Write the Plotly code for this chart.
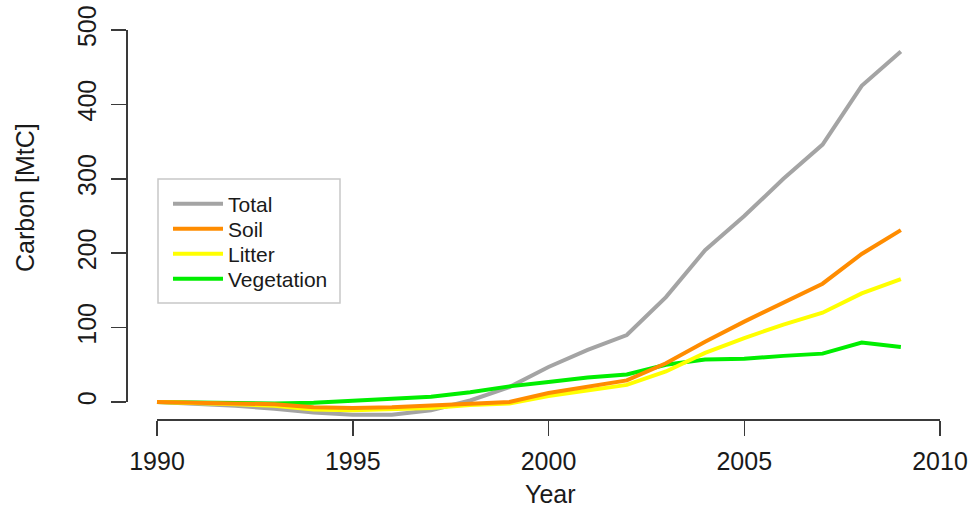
import plotly.graph_objects as go

# ---------------- data ----------------
years = list(range(1990, 2010))
total = [0, -2, -5, -9, -14, -17, -17, -11, 2, 20, 47, 70, 90, 141, 204, 250, 300, 346, 425, 471]
soil = [0, -1, -2, -3, -7, -8, -7, -5, -2, 0, 12, 21, 29, 52, 81, 108, 133, 159, 199, 231]
litter = [0, -1, -3, -5, -10, -11, -10, -8, -4, -2, 8, 16, 23, 41, 66, 86, 104, 120, 146, 165]
vegetation = [0, -1, -1, -2, -1, 2, 4, 7, 13, 21, 27, 33, 37, 50, 57, 58, 62, 65, 80, 74]

x_ticks = [1990, 1995, 2000, 2005, 2010]
y_ticks = [0, 100, 200, 300, 400, 500]

series_names = ["Total", "Soil", "Litter", "Vegetation"]
series_values = [total, soil, litter, vegetation]
series_colors = ["#A4A4A4", "#FF8C00", "#FFFF00", "#00EE00"]
draw_order = [0, 3, 2, 1]

# ---------------- geometry (pixels) ----------------
W, H = 971, 507
X0_PX, X1_PX = 157, 940      # pixel of 1990 and 2010
Y0_PX, Y1_PX = 402, 30       # pixel of 0 and 500
XAXIS_LINE_PX = 419
YAXIS_LINE_PX = 126

def px(x):
    return x / W

def py(y):
    return 1 - y / H

xs = (X1_PX - X0_PX) / (x_ticks[-1] - x_ticks[0])
ys = (Y0_PX - Y1_PX) / (y_ticks[-1] - y_ticks[0])
x_range = [x_ticks[0] - X0_PX / xs, x_ticks[0] + (W - X0_PX) / xs]
y_range = [y_ticks[0] - (H - Y0_PX) / ys, y_ticks[0] + Y0_PX / ys]

FONT = "Liberation Sans, Arial, Helvetica, sans-serif"
TXT = "#1a1a1a"
AX = "#3a3a3a"

fig = go.Figure()

legend_keys = ["legend", "legend2", "legend3", "legend4"]
for i in draw_order:
    fig.add_trace(go.Scatter(
        x=years, y=series_values[i], mode="lines", name=series_names[i],
        line=dict(color=series_colors[i], width=4),
        legend=legend_keys[i], showlegend=True,
        xaxis="x", yaxis="y",
    ))

# empty trace to create the display-axis subplot
fig.add_trace(go.Scatter(x=[], y=[], xaxis="x2", yaxis="y2", showlegend=False))

layout = dict(
    width=W, height=H,
    margin=dict(l=0, r=0, t=0, b=0, pad=0, autoexpand=False),
    paper_bgcolor="white", plot_bgcolor="rgba(0,0,0,0)",
    font=dict(family=FONT, color=TXT, size=25),
    xaxis=dict(domain=[0, 1], range=x_range, visible=False, fixedrange=True),
    yaxis=dict(domain=[0, 1], range=y_range, visible=False, fixedrange=True),
    xaxis2=dict(
        domain=[px(X0_PX), px(X1_PX)], range=[x_ticks[0], x_ticks[-1]],
        anchor="free", position=py(XAXIS_LINE_PX), automargin=False,
        tickmode="array", tickvals=x_ticks, ticktext=[str(t) for t in x_ticks],
        ticks="outside", ticklen=15, tickwidth=1.5, tickcolor=AX,
        showline=True, linecolor=AX, linewidth=1.5,
        showgrid=False, zeroline=False, ticklabelstandoff=4,
        tickfont=dict(size=25, family=FONT, color=TXT),
    ),
    yaxis2=dict(
        domain=[py(Y0_PX), py(Y1_PX)], range=[y_ticks[0], y_ticks[-1]],
        anchor="free", position=px(YAXIS_LINE_PX), automargin=False,
        tickmode="array", tickvals=y_ticks, ticktext=[str(t) for t in y_ticks],
        ticks="outside", ticklen=15, tickwidth=1.5, tickcolor=AX,
        showline=True, linecolor=AX, linewidth=1.5,
        showgrid=False, zeroline=False, tickangle=-90, ticklabelstandoff=5,
        tickfont=dict(size=25, family=FONT, color=TXT),
    ),
    annotations=[
        dict(text="Year", x=px(550), y=py(494), xref="paper", yref="paper",
             showarrow=False, xanchor="center", yanchor="middle",
             font=dict(size=25, family=FONT, color=TXT)),
        dict(text="Carbon [MtC]", x=px(25), y=py(198), xref="paper", yref="paper",
             showarrow=False, xanchor="center", yanchor="middle", textangle=-90,
             font=dict(size=25, family=FONT, color=TXT)),
    ],
    shapes=[
        dict(type="rect", xref="paper", yref="paper",
             x0=px(158), x1=px(340), y0=py(303), y1=py(179),
             line=dict(color="#c8c8c8", width=1.5), fillcolor="rgba(0,0,0,0)"),
    ],
)

item_y = [204, 229, 254, 279]
for k, yy in zip(legend_keys, item_y):
    layout[k] = dict(
        x=px(168), y=py(yy), xanchor="left", yanchor="middle",
        xref="paper", yref="paper",
        bgcolor="rgba(0,0,0,0)", borderwidth=0,
        font=dict(size=21, family=FONT, color=TXT),
        itemwidth=50, itemclick=False, itemdoubleclick=False,
    )

fig.update_layout(**layout)
fig.write_html("out.html", config={"displayModeBar": False, "staticPlot": True},
               post_script="document.body.style.margin='0px';")
